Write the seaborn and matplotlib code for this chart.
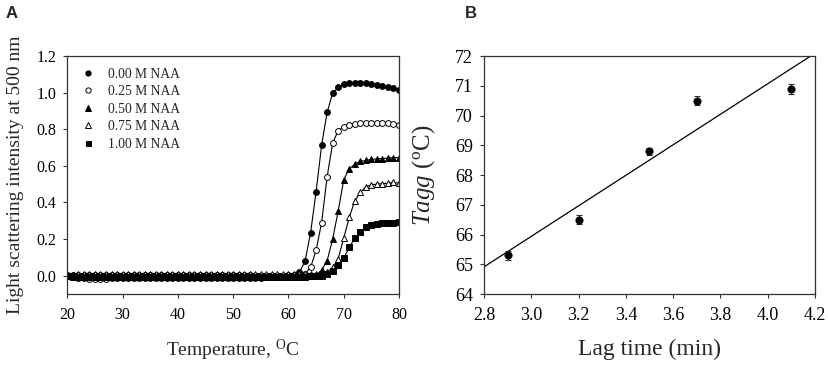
import numpy as np
import pandas as pd
import matplotlib
matplotlib.use("Agg")
import matplotlib.pyplot as plt
from matplotlib.lines import Line2D
import seaborn as sns

# ---------------- Panel A data ----------------
temperature = [20, 21, 22, 23, 24, 25, 26, 27, 28, 29,
               30, 31, 32, 33, 34, 35, 36, 37, 38, 39,
               40, 41, 42, 43, 44, 45, 46, 47, 48, 49,
               50, 51, 52, 53, 54, 55, 56, 57, 58, 59,
               60, 61, 62, 63, 64, 65, 66, 67, 68, 69,
               70, 71, 72, 73, 74, 75, 76, 77, 78, 79,
               80]

naa_000 = [0.006, 0.005, 0.005, 0.004, 0.005, 0.004, 0.004, 0.005, 0.005, 0.004,
           0.004, 0.005, 0.005, 0.005, 0.004, 0.004, 0.005, 0.005, 0.005, 0.004,
           0.004, 0.004, 0.004, 0.004, 0.003, 0.003, 0.003, 0.003, 0.003, 0.003,
           0.002, 0.002, 0.002, 0.002, 0.001, 0.001, 0.001, 0.001, 0.001, 0.001,
           0.002, 0.005, 0.020, 0.078, 0.233, 0.458, 0.713, 0.893, 0.997, 1.030,
           1.045, 1.050, 1.055, 1.055, 1.050, 1.045, 1.040, 1.035, 1.030, 1.025,
           1.013]

naa_025 = [0.005, 0.000, -0.010, -0.015, -0.016, -0.016, -0.016, -0.016, -0.015, -0.015,
           -0.015, -0.015, -0.015, -0.014, -0.014, -0.014, -0.013, -0.013, -0.013, -0.012,
           -0.012, -0.012, -0.012, -0.011, -0.011, -0.011, -0.011, -0.010, -0.010, -0.010,
           -0.010, -0.010, -0.010, -0.010, -0.010, -0.010, -0.009, -0.009, -0.009, -0.008,
           -0.006, -0.004, 0.000, 0.012, 0.045, 0.138, 0.290, 0.540, 0.724, 0.793,
           0.815, 0.825, 0.830, 0.833, 0.835, 0.835, 0.835, 0.833, 0.832, 0.830,
           0.825]

naa_050 = [-0.002, -0.003, -0.003, -0.003, -0.003, -0.003, -0.003, -0.003, -0.003, -0.003,
           -0.003, -0.003, -0.003, -0.003, -0.003, -0.003, -0.003, -0.003, -0.003, -0.003,
           -0.003, -0.003, -0.003, -0.003, -0.003, -0.003, -0.003, -0.003, -0.003, -0.003,
           -0.003, -0.003, -0.003, -0.003, -0.003, -0.003, -0.003, -0.003, -0.003, -0.003,
           -0.003, -0.003, -0.003, -0.003, -0.002, 0.005, 0.030, 0.082, 0.200, 0.353,
           0.524, 0.584, 0.609, 0.624, 0.630, 0.635, 0.638, 0.640, 0.643, 0.645,
           0.645]

naa_075 = [0.005, 0.006, 0.010, 0.012, 0.012, 0.012, 0.012, 0.012, 0.012, 0.012,
           0.012, 0.012, 0.012, 0.012, 0.012, 0.012, 0.012, 0.012, 0.012, 0.012,
           0.012, 0.012, 0.012, 0.012, 0.012, 0.012, 0.012, 0.012, 0.012, 0.012,
           0.012, 0.012, 0.012, 0.012, 0.012, 0.012, 0.012, 0.012, 0.012, 0.012,
           0.012, 0.012, 0.012, 0.012, 0.012, 0.012, 0.012, 0.020, 0.045, 0.093,
           0.205, 0.318, 0.409, 0.455, 0.485, 0.497, 0.500, 0.503, 0.505, 0.510,
           0.505]

naa_100 = [-0.004, -0.005, -0.005, -0.005, -0.005, -0.005, -0.005, -0.005, -0.005, -0.005,
           -0.005, -0.005, -0.005, -0.005, -0.005, -0.005, -0.005, -0.005, -0.005, -0.005,
           -0.005, -0.005, -0.005, -0.005, -0.005, -0.005, -0.005, -0.005, -0.005, -0.005,
           -0.005, -0.005, -0.005, -0.005, -0.005, -0.005, -0.005, -0.005, -0.005, -0.005,
           -0.005, -0.005, -0.005, -0.005, -0.004, -0.003, 0.000, 0.011, 0.027, 0.060,
           0.096, 0.155, 0.205, 0.238, 0.264, 0.278, 0.283, 0.288, 0.290, 0.290,
           0.292]

series_labels = ["0.00 M NAA", "0.25 M NAA", "0.50 M NAA", "0.75 M NAA", "1.00 M NAA"]

# ---------------- Panel B data ----------------
lag_time = [2.9, 3.2, 3.5, 3.7, 4.1]
t_agg = [65.3, 66.5, 68.8, 70.5, 70.9]
t_agg_err = [0.15, 0.15, 0.12, 0.15, 0.17]

# ---------------- Styling ----------------
sns.set_theme(style="ticks")
plt.rcParams["font.family"] = ["Liberation Serif", "DejaVu Serif"]
plt.rcParams["mathtext.fontset"] = "custom"
plt.rcParams["mathtext.rm"] = "Liberation Serif"
plt.rcParams["mathtext.it"] = "Liberation Serif:italic"
plt.rcParams["axes.edgecolor"] = "#333333"
plt.rcParams["axes.linewidth"] = 0.9
plt.rcParams["xtick.color"] = "#333333"
plt.rcParams["ytick.color"] = "#333333"
plt.rcParams["xtick.labelcolor"] = "black"
plt.rcParams["ytick.labelcolor"] = "black"

fig = plt.figure(figsize=(8.29, 3.71), dpi=100)
axA = fig.add_axes([0.0812, 0.2075, 0.4001, 0.6415])
axB = fig.add_axes([0.5838, 0.2075, 0.3993, 0.6415])

markers = [
    dict(marker="o", markerfacecolor="black", markeredgecolor="black", markersize=4.2),
    dict(marker="o", markerfacecolor="white", markeredgecolor="black", markersize=4.2),
    dict(marker="^", markerfacecolor="black", markeredgecolor="black", markersize=4.6),
    dict(marker="^", markerfacecolor="white", markeredgecolor="black", markersize=4.6),
    dict(marker="s", markerfacecolor="black", markeredgecolor="black", markersize=4.0),
]
all_series = [naa_000, naa_025, naa_050, naa_075, naa_100]

for vals, lab, mk in zip(all_series, series_labels, markers):
    df = pd.DataFrame({"T": temperature, "y": vals})
    sns.lineplot(data=df, x="T", y="y", ax=axA, color="black", linewidth=0.8,
                 markeredgewidth=0.7, legend=False, **mk)

axA.set_xlim(20, 80)
axA.set_ylim(-0.1, 1.2)
axA.set_xticks([20, 30, 40, 50, 60, 70, 80])
axA.set_yticks([0.0, 0.2, 0.4, 0.6, 0.8, 1.0, 1.2])
axA.set_yticklabels(["0.0", "0.2", "0.4", "0.6", "0.8", "1.0", "1.2"])
axA.tick_params(labelsize=11.5, length=3, width=0.8, direction="out")
axA.tick_params(axis="y", pad=5)
axA.tick_params(axis="x", pad=6)
axA.set_xlabel(r"Temperature, $^{\mathrm{O}}$C", fontsize=14, labelpad=11)
axA.set_ylabel("Light scattering intensity at 500 nm", fontsize=14, labelpad=9)

handles = [Line2D([], [], linestyle="none", color="black", markeredgewidth=0.7,
                  **{**mk, "markersize": mk["markersize"] * 0.9})
           for mk in markers]
leg = axA.legend(handles, series_labels, loc="upper left", frameon=False,
                 fontsize=9.8, handletextpad=0.7, labelspacing=0.33,
                 handlelength=1.6,
                 bbox_to_anchor=(0.005, 0.985), borderaxespad=0.2)

# Panel B
axB.set_xlim(2.8, 4.2)
axB.set_ylim(64, 72)
dfB = pd.DataFrame({"lag": lag_time, "tagg": t_agg})
sns.regplot(data=dfB, x="lag", y="tagg", ax=axB, ci=None, truncate=False,
            scatter=False, line_kws=dict(color="black", linewidth=0.9))
axB.errorbar(lag_time, t_agg, yerr=t_agg_err, fmt="none", ecolor="#333333",
             elinewidth=0.8, capsize=2.5, capthick=0.8)
sns.scatterplot(data=dfB, x="lag", y="tagg", ax=axB, color="black", s=28,
                edgecolor="black", linewidth=0.5, zorder=5, legend=False)
axB.set_xlim(2.8, 4.2)
axB.set_ylim(64, 72)
axB.set_xticks([2.8, 3.0, 3.2, 3.4, 3.6, 3.8, 4.0, 4.2])
axB.set_xticklabels(["2.8", "3.0", "3.2", "3.4", "3.6", "3.8", "4.0", "4.2"])
axB.set_yticks([64, 65, 66, 67, 68, 69, 70, 71, 72])
axB.tick_params(labelsize=13, length=3, width=0.8, direction="out")
axB.tick_params(axis="y", pad=5)
axB.tick_params(axis="x", pad=6)
axB.set_xlabel("Lag time (min)", fontsize=17, labelpad=11)
axB.set_ylabel(r"$T\mathit{agg}$ ($^{\mathrm{o}}$C)", fontsize=18, labelpad=13)

for ax in (axA, axB):
    for sp in ax.spines.values():
        sp.set_visible(True)

fig.text(0.007, 0.985, "A", fontsize=12, fontweight="bold",
         family=["Liberation Sans", "DejaVu Sans"], va="top", ha="left")
fig.text(0.561, 0.985, "B", fontsize=12, fontweight="bold",
         family=["Liberation Sans", "DejaVu Sans"], va="top", ha="left")

fig.savefig("out.png", dpi=100)
